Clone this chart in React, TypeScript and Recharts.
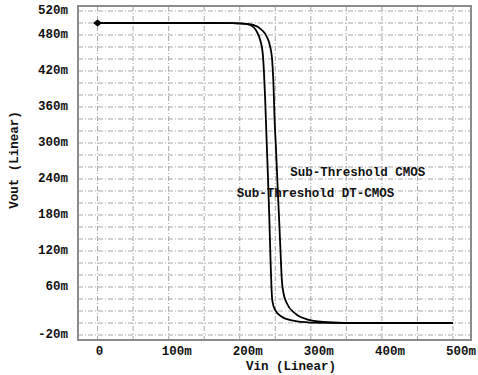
import React from 'react';
import {
  ComposedChart,
  Line,
  Scatter,
  XAxis,
  YAxis,
  CartesianGrid,
  ReferenceArea,
  ReferenceDot,
  Label,
} from 'recharts';

// Axis ranges (mV) and tick / grid positions
const X_DOMAIN: [number, number] = [-27.5, 525.3];
const Y_DOMAIN: [number, number] = [-28.3, 528.3];
const xGridValues = [0, 50, 100, 150, 200, 250, 300, 350, 400, 450, 500];
const xLabelValues = [0, 100, 200, 300, 400, 500];
const yGridValues = [
  -20, 0, 20, 40, 60, 80, 100, 120, 140, 160, 180, 200, 220, 240, 260, 280, 300,
  320, 340, 360, 380, 400, 420, 440, 460, 480, 500, 520,
];
const yLabelValues = [-20, 60, 120, 180, 240, 300, 360, 420, 480, 520];

// Transfer curve: Sub-Threshold DT-CMOS (Vin, Vout in mV)
const dtVin = [
  0, 100, 190, 205, 214.7, 224, 228.7, 232.3, 234, 235.7, 237.5, 239.5, 241.5,
  243.2, 244.6, 246, 249.8, 259.2, 275.5, 299, 331, 400, 500,
];
const dtVout = [
  500, 500, 499.6, 499, 496.7, 485.5, 471.7, 450, 420, 375, 315, 250, 180, 110,
  60, 36, 21.7, 10.5, 3.8, 0.8, 0.1, 0, 0,
];

// Transfer curve: Sub-Threshold CMOS (Vin, Vout in mV)
const cmosVin = [
  0, 100, 190, 205, 218.9, 231.1, 238.1, 242.8, 245.5, 247.4, 249, 251, 253,
  255.5, 257.5, 259.2, 261.5, 266.2, 277.9, 294.3, 317.7, 345.8, 400, 500,
];
const cmosVout = [
  500, 500, 499.6, 499, 496.7, 488.3, 477, 460.5, 440, 400, 340, 290, 235, 170,
  115, 72, 50, 33, 16, 6.2, 1.7, 0.3, 0, 0,
];

// Start marker
const markerVin = [0];
const markerVout = [500];

// Curve annotations
const annotations = [
  { text: 'Sub-Threshold CMOS', vin: 270.9, vout: 250.5 },
  { text: 'Sub-Threshold DT-CMOS', vin: 195.9, vout: 214.5 },
];

const toPoints = (xs: number[], ys: number[]) => xs.map((x, i) => ({ x, y: ys[i] }));
const dtData = toPoints(dtVin, dtVout);
const cmosData = toPoints(cmosVin, cmosVout);
const markerData = toPoints(markerVin, markerVout);

const FONT = "'Liberation Mono', 'DejaVu Sans Mono', monospace";
const FONT_SIZE = 12.5;

const fmt = (v: number) => (v === 0 ? '0' : `${v}m`);

const XTick = (props: any) => {
  const { x, y, payload } = props;
  if (!xLabelValues.includes(payload.value)) return <g />;
  const label = fmt(payload.value);
  return (
    <text
      x={x + 2 * label.length}
      y={y + 4}
      textAnchor="middle"
      dominantBaseline="central"
      fontFamily={FONT}
      fontWeight="bold"
      fontSize={FONT_SIZE}
      fill="#111"
    >
      {label}
    </text>
  );
};

const YTick = (props: any) => {
  const { x, y, payload } = props;
  if (!yLabelValues.includes(payload.value)) return <g />;
  return (
    <text
      x={x - 2}
      y={y}
      textAnchor="end"
      dominantBaseline="central"
      fontFamily={FONT}
      fontWeight="bold"
      fontSize={FONT_SIZE}
      fill="#111"
    >
      {fmt(payload.value)}
    </text>
  );
};

const Diamond = (props: any) => {
  const { cx, cy } = props;
  return (
    <path
      d={`M${cx - 4.5},${cy} L${cx},${cy - 3.5} L${cx + 4.5},${cy} L${cx},${cy + 3.5} Z`}
      fill="#000"
    />
  );
};

export default function App() {
  return (
    <div style={{ position: 'absolute', left: 0, top: 0, background: '#fff' }}>
      <ComposedChart
        width={478}
        height={375}
        margin={{ top: 6, right: 7, bottom: 0, left: 0 }}
      >
        <CartesianGrid stroke="#a8a8a8" strokeDasharray="5 2 1 2" strokeWidth={1} />
        <XAxis
          type="number"
          dataKey="x"
          domain={X_DOMAIN}
          ticks={xGridValues}
          allowDataOverflow
          tickLine={false}
          axisLine={false}
          height={35}
          tick={<XTick />}
          interval={0}
        >
          <Label
            content={(p: any) => {
              const { x, y, width } = p.viewBox;
              return (
                <text
                  x={x + width / 2 + 16.5}
                  y={y + 27}
                  textAnchor="middle"
                  dominantBaseline="central"
                  fontFamily={FONT}
                  fontWeight="bold"
                  fontSize={FONT_SIZE}
                  fill="#111"
                >
                  Vin (Linear)
                </text>
              );
            }}
          />
        </XAxis>
        <YAxis
          type="number"
          domain={Y_DOMAIN}
          ticks={yGridValues}
          allowDataOverflow
          tickLine={false}
          axisLine={false}
          width={78}
          tick={<YTick />}
          interval={0}
        >
          <Label
            content={(p: any) => {
              const { x, y, height } = p.viewBox;
              const cx = x + 15;
              const cy = y + height / 2 - 13;
              return (
                <text
                  x={cx}
                  y={cy}
                  transform={`rotate(-90 ${cx} ${cy})`}
                  textAnchor="middle"
                  dominantBaseline="central"
                  fontFamily={FONT}
                  fontWeight="bold"
                  fontSize={FONT_SIZE}
                  fill="#111"
                >
                  Vout (Linear)
                </text>
              );
            }}
          />
        </YAxis>
        <ReferenceArea
          x1={X_DOMAIN[0]}
          x2={X_DOMAIN[1]}
          y1={Y_DOMAIN[0]}
          y2={Y_DOMAIN[1]}
          fill="none"
          stroke="#8c8c8c"
          strokeWidth={2}
          ifOverflow="visible"
        />
        <Line
          data={dtData}
          dataKey="y"
          type="monotone"
          stroke="#000"
          strokeWidth={1.8}
          dot={false}
          isAnimationActive={false}
        />
        <Line
          data={cmosData}
          dataKey="y"
          type="monotone"
          stroke="#000"
          strokeWidth={1.8}
          dot={false}
          isAnimationActive={false}
        />
        <Scatter data={markerData} dataKey="y" shape={<Diamond />} isAnimationActive={false} />
        {annotations.map((a) => (
          <ReferenceDot
            key={a.text}
            x={a.vin}
            y={a.vout}
            r={0}
            ifOverflow="visible"
            shape={(p: any) => (
              <text
                x={p.cx}
                y={p.cy}
                textAnchor="start"
                dominantBaseline="central"
                fontFamily={FONT}
                fontWeight="bold"
                fontSize={FONT_SIZE}
                fill="#111"
              >
                {a.text}
              </text>
            )}
          />
        ))}
      </ComposedChart>
    </div>
  );
}
